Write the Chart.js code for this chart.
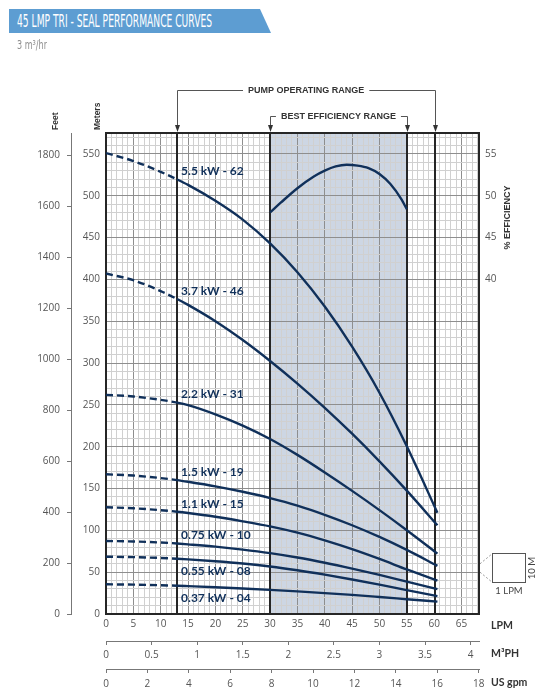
<!DOCTYPE html>
<html>
<head>
<meta charset="utf-8">
<title>45 LMP TRI - Seal performance curves</title>
<script src="https://cdn.jsdelivr.net/npm/chart.js@4.4.1/dist/chart.umd.min.js"></script>
<style>
  html, body { margin: 0; padding: 0; background: #fff; }
  #wrap { position: relative; width: 545px; height: 700px; overflow: hidden; }
  #chart { position: absolute; left: 0; top: 0; }
  #banner {
    position: absolute; left: 9px; top: 9px; width: 262px; height: 24px;
    background: #5d9dd2;
    clip-path: polygon(0 0, 251px 0, 262px 100%, 0 100%);
  }
  #banner span {
    position: absolute; left: 8px; top: 3px; color: #fff; white-space: nowrap;
    font: 17px/18px 'Liberation Sans Narrow', 'DejaVu Sans Condensed', 'Liberation Sans', sans-serif;
    transform-origin: 0 50%;
  }
  #sub {
    position: absolute; left: 17px; top: 37px; color: #8f8f8f; white-space: nowrap;
    font: 13px/15px 'Liberation Sans Narrow', 'DejaVu Sans Condensed', 'Liberation Sans', sans-serif;
    transform-origin: 0 50%;
  }
</style>
</head>
<body>
<div id="wrap">
  <canvas id="chart" width="545" height="700"></canvas>
  <div id="banner"><span id="title">45 LMP TRI - SEAL PERFORMANCE CURVES</span></div>
  <div id="sub">3 m³/hr</div>
</div>
<script>
const flowLpm = [0, 5, 10, 13, 15, 20, 25, 30, 35, 40, 45, 50, 55, 60.6];

// Head in meters for each motor / stage count
const head55 = [551, 541.5, 528.5, 519.5, 513, 494, 471.5, 443, 408.5, 367.5, 319.5, 264.5, 200.5, 121];
const head37 = [407, 399, 386, 376.5, 369.5, 350, 327.5, 302.5, 275.5, 246.5, 215.5, 182.5, 147.5, 106];
const head22 = [262, 260, 256, 252.7, 249.7, 238.7, 225.2, 209.2, 190.2, 169.2, 147.2, 124.2, 100.2, 72.2];
const head15 = [167, 165.5, 162.5, 160.1, 158.1, 152.6, 146.1, 138.6, 129.6, 118.6, 106.1, 92.1, 76.6, 57.6];
const head11 = [127.6, 126.4, 124.1, 122.3, 120.8, 116.3, 110.8, 104.8, 97.3, 88, 77.5, 65.8, 53.3, 39.9];
const head075 = [87.3, 86.7, 85.45, 84.25, 83.25, 80.5, 77, 72.75, 67.5, 61.25, 54.25, 46.75, 38.75, 29.8];
const head055 = [68.5, 68, 67, 66.1, 65.3, 63.05, 60.3, 56.8, 52.3, 47.05, 41.3, 35.05, 28.55, 21.3];
const head037 = [35.5, 35.1, 34.4, 33.8, 33.3, 32, 30.5, 28.8, 27, 25, 22.8, 20.3, 17.7, 14.8];

const curveNames = ['5.5 kW - 62', '3.7 kW - 46', '2.2 kW - 31', '1.5 kW - 19',
  '1.1 kW - 15', '0.75 kW - 10', '0.55 kW - 08', '0.37 kW - 04'];

// Efficiency curve (%), only drawn inside the best efficiency range
const effFlow = [30, 32, 35, 38, 40, 42, 44, 46, 48, 50, 52, 54, 55];
const effPct = [48.0, 49.2, 50.9, 52.3, 53.0, 53.5, 53.7, 53.6, 53.3, 52.6, 51.4, 49.6, 48.4];

const operatingRange = [13, 60.2];
const bestRange = [30, 55];

// unit conversions for the extra axes
const FT_PER_M = 1 / 0.3048;
const LPM_PER_M3H = 1000 / 60;
const LPM_PER_GPM = 3.78541;

const X_MAX = 68.2;
const Y_MAX = 575;

const navy = '#10305a';
const tickFont = { family: "'Open Sans', sans-serif", size: 10 };
const tickColor = '#555';
const minorGrid = '#d0d0d0';
const majorGrid = '#8e8e8e';

const heads = [head55, head37, head22, head15, head11, head075, head055, head037];
// 0.55 and 0.37 kW have their label under the line
const labelBelow = [false, false, false, false, false, false, true, true];

const datasets = heads.map((h, i) => ({
  label: curveNames[i],
  data: flowLpm.map((f, j) => ({ x: f, y: h[j] })),
  borderColor: navy,
  borderWidth: 2.4,
  pointRadius: 0,
  fill: false,
  cubicInterpolationMode: 'monotone',
  yAxisID: 'm',
  segment: {
    // dashed left of the operating range
    borderDash: ctx => (ctx.p1.parsed.x <= operatingRange[0] ? [7, 4] : undefined),
  },
}));
datasets.push({
  label: 'Efficiency',
  data: effFlow.map((f, j) => ({ x: f, y: effPct[j] })),
  borderColor: navy,
  borderWidth: 2.4,
  pointRadius: 0,
  fill: false,
  cubicInterpolationMode: 'monotone',
  yAxisID: 'eff',
});

function crisp(v) { return Math.round(v) + 0.5; }

function bracket(ctx, xl, xr, y, yEnd, text) {
  ctx.font = "bold 9px 'Liberation Sans', Arial, sans-serif";
  const w = ctx.measureText(text).width;
  const cx = (xl + xr) / 2;
  xl = crisp(xl); xr = crisp(xr); y = crisp(y);
  ctx.strokeStyle = '#555';
  ctx.fillStyle = '#333';
  ctx.lineWidth = 1;
  ctx.beginPath();
  ctx.moveTo(xl, yEnd - 6); ctx.lineTo(xl, y); ctx.lineTo(cx - w / 2 - 5, y);
  ctx.moveTo(cx + w / 2 + 5, y); ctx.lineTo(xr, y); ctx.lineTo(xr, yEnd - 6);
  ctx.stroke();
  [xl, xr].forEach(xx => {
    ctx.beginPath();
    ctx.moveTo(xx - 2.5, yEnd - 8);
    ctx.lineTo(xx + 2.5, yEnd - 8);
    ctx.lineTo(xx, yEnd - 1);
    ctx.closePath();
    ctx.fill();
  });
  ctx.textAlign = 'center';
  ctx.textBaseline = 'middle';
  ctx.fillText(text, cx, y);
}

function vText(ctx, text, x, y, align) {
  ctx.save();
  ctx.translate(x, y);
  ctx.rotate(-Math.PI / 2);
  ctx.textAlign = align;
  ctx.textBaseline = 'middle';
  ctx.fillText(text, 0, 0);
  ctx.restore();
}

const decor = {
  id: 'decor',
  beforeDraw(chart) {
    const { ctx, chartArea: a, scales: { x } } = chart;
    ctx.save();
    ctx.fillStyle = '#fff';
    ctx.fillRect(0, 0, chart.width, chart.height);
    const x0 = x.getPixelForValue(bestRange[0]);
    const x1 = x.getPixelForValue(bestRange[1]);
    ctx.fillStyle = '#cdd6e3';
    ctx.fillRect(x0, a.top, x1 - x0, a.bottom - a.top);
    ctx.restore();
  },
  beforeDatasetsDraw(chart) {
    const { ctx, chartArea: a, scales: { x } } = chart;
    ctx.save();
    ctx.strokeStyle = '#262626';
    ctx.lineWidth = 2;
    [operatingRange[0], bestRange[0], bestRange[1], operatingRange[1]].forEach(v => {
      const px = Math.round(x.getPixelForValue(v));
      ctx.beginPath();
      ctx.moveTo(px, a.top);
      ctx.lineTo(px, a.bottom);
      ctx.stroke();
    });
    ctx.strokeRect(Math.round(a.left), Math.round(a.top),
      Math.round(a.right - a.left), Math.round(a.bottom - a.top));
    ctx.restore();
  },
  afterDatasetsDraw(chart) {
    const { ctx, scales: { x } } = chart;
    const lx = x.getPixelForValue(operatingRange[0]) + 4;
    ctx.save();
    ctx.font = "bold 12px Lato, 'Open Sans', sans-serif";
    ctx.fillStyle = navy;
    ctx.textAlign = 'left';
    ctx.textBaseline = 'middle';
    curveNames.forEach((name, i) => {
      const pt = chart.getDatasetMeta(i).data[3];
      ctx.fillText(name, lx, pt.y + (labelBelow[i] ? 12 : -8));
    });
    ctx.restore();
  },
  afterDraw(chart) {
    const { ctx, chartArea: a, scales } = chart;
    const x = scales.x;
    ctx.save();

    // range brackets above the grid
    bracket(ctx, x.getPixelForValue(operatingRange[0]), x.getPixelForValue(operatingRange[1]),
      a.top - 43, a.top, 'PUMP OPERATING RANGE');
    bracket(ctx, x.getPixelForValue(bestRange[0]), x.getPixelForValue(bestRange[1]),
      a.top - 17, a.top, 'BEST EFFICIENCY RANGE');

    // left axis titles
    ctx.fillStyle = '#333';
    ctx.font = "bold 8.5px 'Liberation Sans', Arial, sans-serif";
    vText(ctx, 'Feet', scales.ft.right - 15, a.top - 3, 'left');
    vText(ctx, 'Meters', scales.m.left + 27, a.top - 3, 'left');

    // right axis title
    ctx.font = "bold 9px 'Liberation Sans', Arial, sans-serif";
    vText(ctx, '% EFFICIENCY', a.right + 29, scales.eff.getPixelForValue(47.4), 'center');

    // bottom unit names
    ctx.font = "bold 10.5px Lato, 'Open Sans', sans-serif";
    ctx.fillStyle = '#333';
    ctx.textAlign = 'left';
    ctx.textBaseline = 'middle';
    const ux = a.right + 12;
    ctx.fillText('LPM', ux, scales.x.top + 12);
    ctx.fillText('M³PH', ux, scales.m3.top + 13);
    ctx.fillText('US gpm', ux, scales.gpm.top + 14);

    // grid cell size key
    const yA = scales.m.getPixelForValue(60);
    const yB = scales.m.getPixelForValue(50);
    const sx = Math.round(a.right + 13) + 0.5;
    const sy = Math.round(yA - 11) + 0.5;
    const sw = 33, sh = 29;
    ctx.strokeStyle = '#999';
    ctx.lineWidth = 1;
    ctx.setLineDash([2, 2]);
    ctx.beginPath();
    ctx.moveTo(a.right + 1, yA); ctx.lineTo(sx, sy);
    ctx.moveTo(a.right + 1, yB); ctx.lineTo(sx, sy + sh);
    ctx.stroke();
    ctx.setLineDash([]);
    ctx.strokeStyle = '#555';
    ctx.strokeRect(sx, sy, sw, sh);
    ctx.fillStyle = '#444';
    ctx.font = "9.5px Lato, 'Open Sans', sans-serif";
    ctx.textAlign = 'center';
    ctx.fillText('1 LPM', sx + sw / 2, sy + sh + 8);
    vText(ctx, '10 M', sx + sw + 6, sy + sh / 2, 'center');

    ctx.restore();
  },
};

const gridColor = c => (c.tick && Math.round(c.tick.value) % 5 === 0 ? majorGrid : minorGrid);
const gridColorM = c => (c.tick && Math.round(c.tick.value) % 50 === 0 ? majorGrid : minorGrid);

new Chart(document.getElementById('chart'), {
  type: 'line',
  data: { datasets },
  plugins: [decor],
  options: {
    responsive: false,
    animation: false,
    events: [],
    layout: { padding: { top: 133, left: 0, right: 0, bottom: 5 } },
    plugins: { legend: { display: false }, tooltip: { enabled: false } },
    scales: {
      x: {
        type: 'linear', position: 'bottom', min: 0, max: X_MAX, weight: 0,
        ticks: {
          stepSize: 1, includeBounds: false, autoSkip: false, maxRotation: 0, padding: 4,
          font: tickFont, color: tickColor,
          callback: v => (v % 5 === 0 ? String(v) : ''),
        },
        grid: { color: gridColor, lineWidth: 1, drawTicks: false },
        border: { display: false },
        afterFit: s => { s.height = 27; },
      },
      m3: {
        type: 'linear', position: 'bottom', min: 0, max: X_MAX / LPM_PER_M3H, weight: 1,
        ticks: {
          stepSize: 0.5, includeBounds: false, autoSkip: false, maxRotation: 0, padding: 4,
          font: tickFont, color: tickColor,
          callback: v => String(v),
        },
        grid: { drawOnChartArea: false, drawTicks: true, tickLength: 4, color: '#777' },
        border: { display: true, color: '#777', width: 1 },
        afterFit: s => { s.height = 28; },
      },
      gpm: {
        type: 'linear', position: 'bottom', min: 0, max: X_MAX / LPM_PER_GPM, weight: 2,
        ticks: {
          stepSize: 2, includeBounds: false, autoSkip: false, maxRotation: 0, padding: 5,
          font: tickFont, color: tickColor,
          callback: v => String(v),
        },
        grid: { drawOnChartArea: false, drawTicks: true, tickLength: 4, color: '#777' },
        border: { display: true, color: '#777', width: 1 },
        afterFit: s => { s.height = 26; },
      },
      m: {
        type: 'linear', position: 'left', min: 0, max: Y_MAX, weight: 0,
        ticks: {
          stepSize: 10, includeBounds: false, autoSkip: false, padding: 6,
          font: tickFont, color: tickColor,
          callback: v => (v % 50 === 0 ? String(v) : ''),
        },
        grid: { color: gridColorM, lineWidth: 1, drawTicks: false },
        border: { display: false },
        afterFit: s => { s.width = 35; },
      },
      ft: {
        type: 'linear', position: 'left', min: 0, max: Y_MAX * FT_PER_M, weight: 1,
        ticks: {
          stepSize: 200, includeBounds: false, autoSkip: false, padding: 7,
          font: tickFont, color: tickColor,
          callback: v => String(v),
        },
        grid: { drawOnChartArea: false, drawTicks: true, tickLength: 4, color: '#777' },
        border: { display: true, color: '#777', width: 1 },
        afterFit: s => { s.width = 71; },
      },
      eff: {
        type: 'linear', position: 'right', min: 0, max: Y_MAX / 10, weight: 0,
        ticks: {
          stepSize: 5, includeBounds: false, autoSkip: false, padding: 6,
          font: tickFont, color: tickColor,
          callback: v => (v >= 40 ? String(v) : null),
        },
        grid: { drawOnChartArea: false, drawTicks: false },
        border: { display: false },
        afterFit: s => { s.width = 66; },
      },
    },
  },
});

// squeeze the condensed header texts to their width in the original
function squeeze(el, w) {
  const r = el.getBoundingClientRect().width;
  if (r > 0) el.style.transform = 'scaleX(' + (w / r) + ')';
}
squeeze(document.getElementById('title'), 195);
squeeze(document.getElementById('sub'), 30);
</script>
</body>
</html>
